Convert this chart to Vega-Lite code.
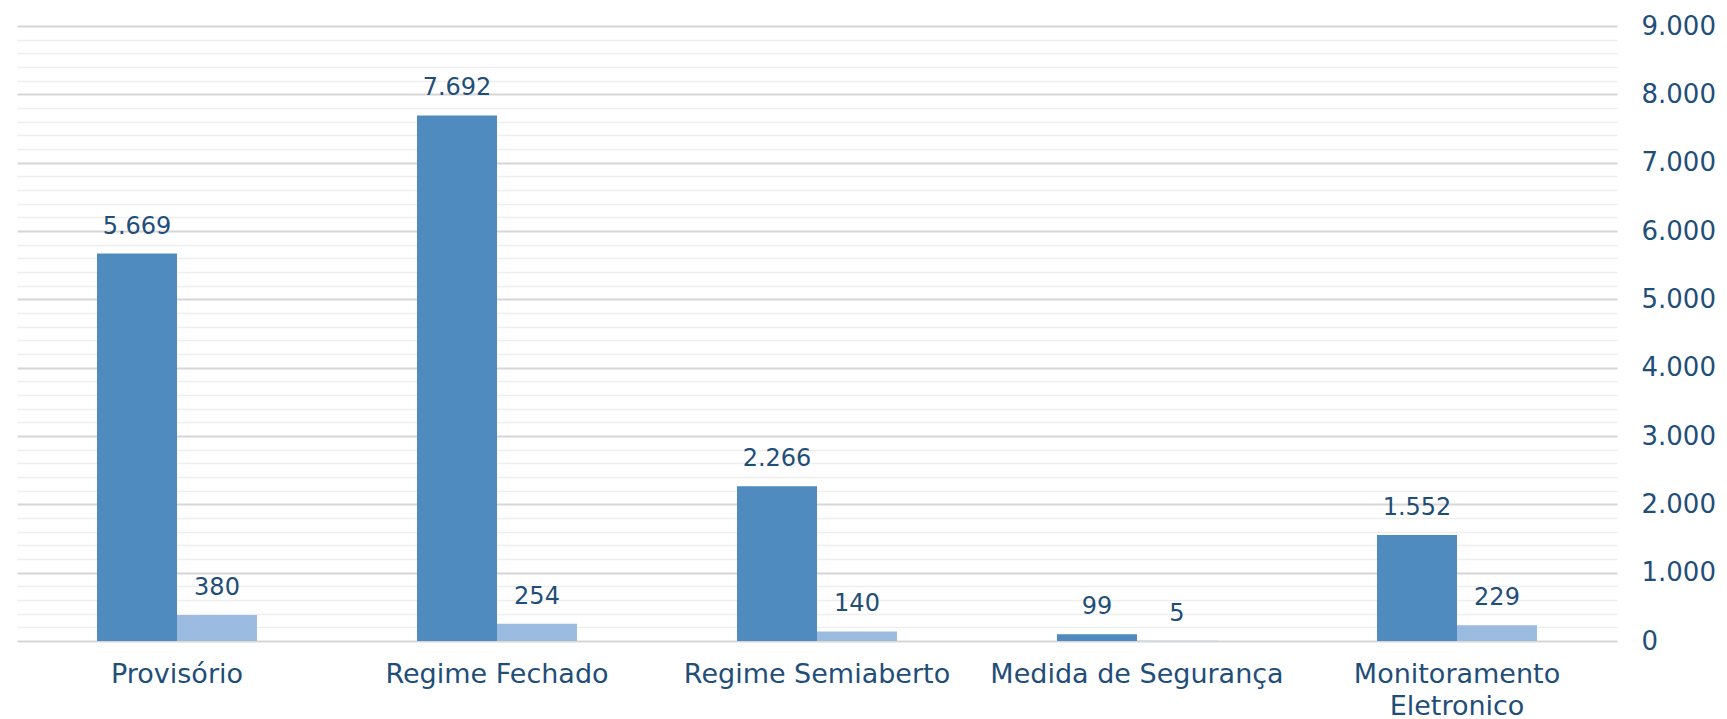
{
  "$schema": "https://vega.github.io/schema/vega-lite/v6.json",
  "width": 1600,
  "height": 615,
  "autosize": {"type": "none"},
  "padding": {"left": 17, "top": 26, "right": 110, "bottom": 78},
  "background": "white",
  "config": {
    "locale": {"number": {"decimal": ",", "thousands": ".", "grouping": [3], "currency": ["R$", ""]}},
    "view": {"stroke": null},
    "font": "DejaVu Sans"
  },
  "data": {
    "values": [
      {"categoria": "Provisório", "serie": "A", "valor": 5669},
      {"categoria": "Provisório", "serie": "B", "valor": 380},
      {"categoria": "Regime Fechado", "serie": "A", "valor": 7692},
      {"categoria": "Regime Fechado", "serie": "B", "valor": 254},
      {"categoria": "Regime Semiaberto", "serie": "A", "valor": 2266},
      {"categoria": "Regime Semiaberto", "serie": "B", "valor": 140},
      {"categoria": "Medida de Segurança", "serie": "A", "valor": 99},
      {"categoria": "Medida de Segurança", "serie": "B", "valor": 5},
      {"categoria": "Monitoramento Eletronico", "serie": "A", "valor": 1552},
      {"categoria": "Monitoramento Eletronico", "serie": "B", "valor": 229}
    ]
  },
  "encoding": {
    "x": {
      "field": "categoria", "type": "nominal", "sort": null,
      "scale": {"paddingInner": 0, "paddingOuter": 0},
      "axis": {
        "title": null, "labelAngle": 0, "ticks": false, "domain": false,
        "labelFontSize": 27, "labelColor": "#1f4e79", "labelPadding": 20,
        "labelLineHeight": 32, "labelBaseline": "top", "labelLimit": 0,
        "labelExpr": "datum.label == 'Monitoramento Eletronico' ? ['Monitoramento', 'Eletronico'] : datum.label"
      }
    },
    "y": {
      "field": "valor", "type": "quantitative",
      "scale": {"domain": [0, 9000], "nice": false},
      "axis": {
        "orient": "right", "title": null, "ticks": false, "domain": false,
        "values": [0,200,400,600,800,1000,1200,1400,1600,1800,2000,2200,2400,2600,2800,3000,3200,3400,3600,3800,4000,4200,4400,4600,4800,5000,5200,5400,5600,5800,6000,6200,6400,6600,6800,7000,7200,7400,7600,7800,8000,8200,8400,8600,8800,9000],
        "labelExpr": "datum.value % 1000 === 0 ? format(datum.value, ',d') : ''",
        "labelFontSize": 26, "labelColor": "#1f4e79", "labelPadding": 24, "labelAlign": "left",
        "grid": true,
        "gridColor": {"condition": {"test": "datum.value % 1000 === 0", "value": "#d6d6d6"}, "value": "#eeeeee"},
        "gridWidth": {"condition": {"test": "datum.value % 1000 === 0", "value": 2}, "value": 1.5}
      }
    },
    "xOffset": {"field": "serie", "type": "nominal", "scale": {"paddingInner": 0, "paddingOuter": 1}}
  },
  "layer": [
    {
      "mark": {"type": "bar"},
      "encoding": {
        "color": {"field": "serie", "type": "nominal", "scale": {"domain": ["A", "B"], "range": ["#4f8bbf", "#9bbbe0"]}, "legend": null}
      }
    },
    {
      "mark": {"type": "text", "baseline": "middle", "dy": -27, "fontSize": 24, "color": "#1f4e79"},
      "encoding": {
        "text": {"field": "valor", "type": "quantitative", "format": ",d"}
      }
    }
  ]
}
